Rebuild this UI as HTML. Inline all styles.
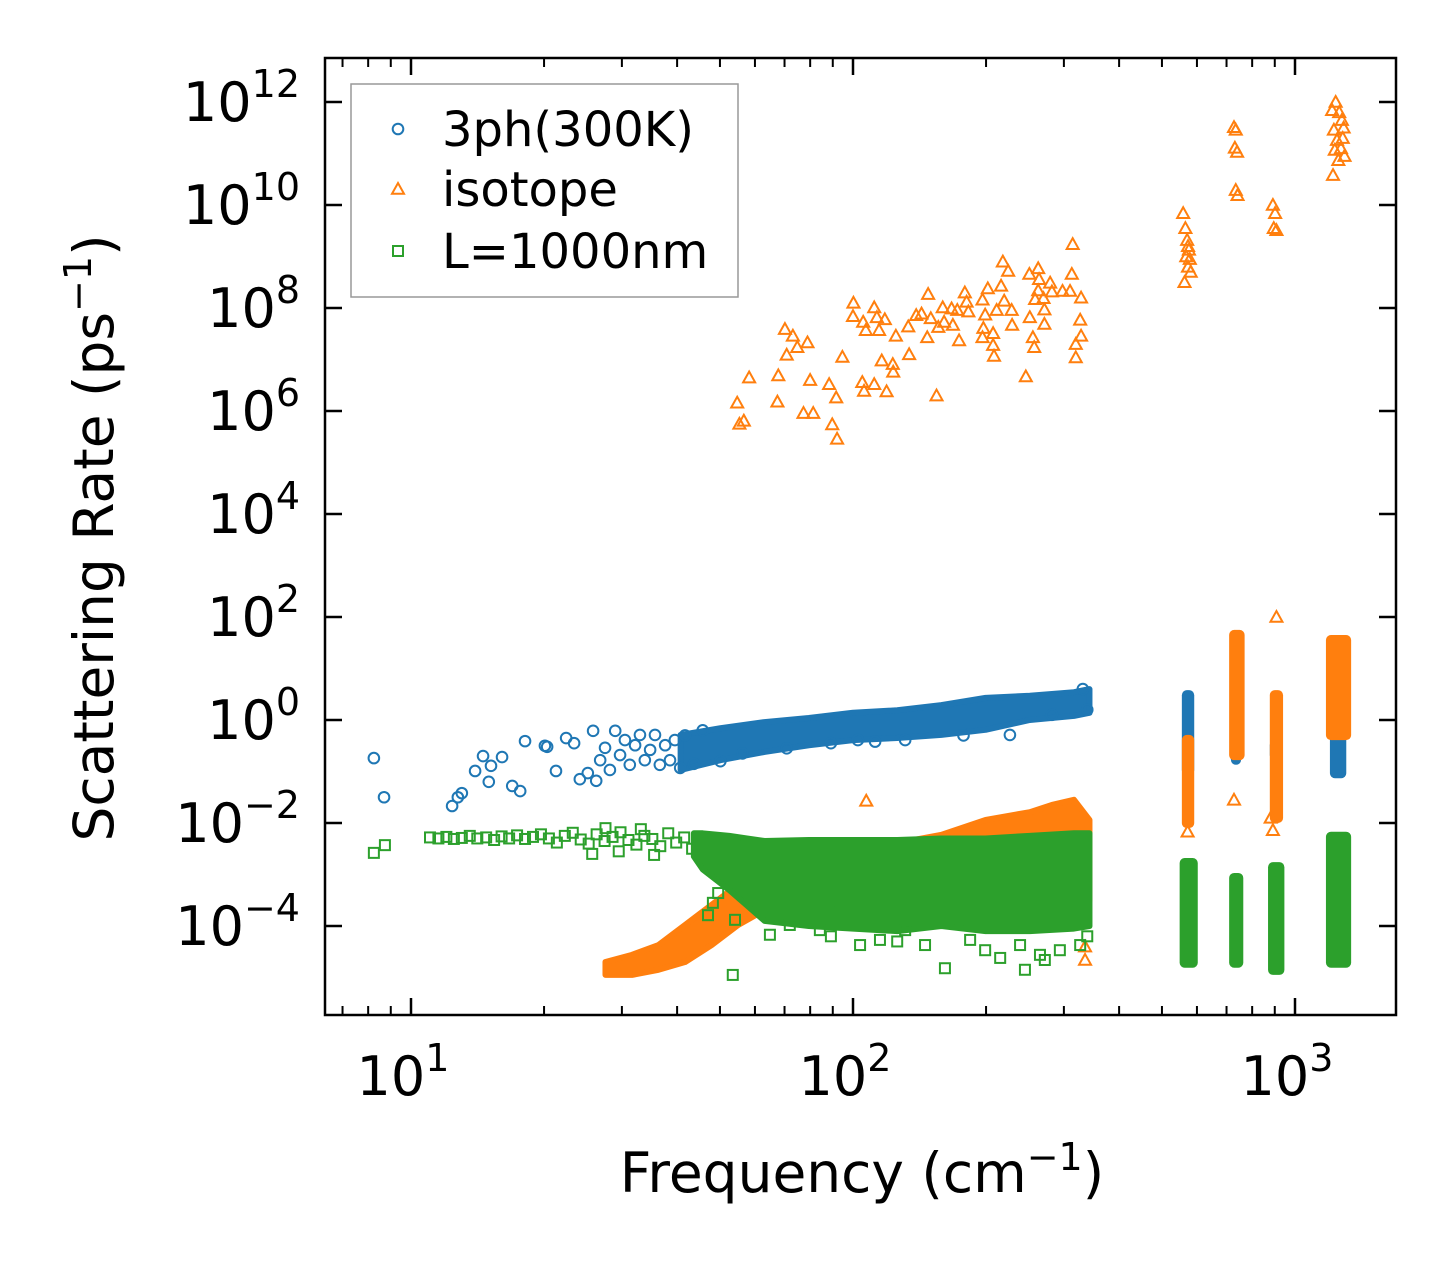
<!DOCTYPE html>
<html><head><meta charset="utf-8"><style>
html,body{margin:0;padding:0;background:#fff;}
svg{display:block;font-family:"DejaVu Sans","Liberation Sans",sans-serif;}
</style></head><body>
<svg id="chart" width="1455" height="1265" viewBox="0 0 1455 1265" xmlns="http://www.w3.org/2000/svg">
<rect width="1455" height="1265" fill="#fff"/>
<g id="marks"></g>
<g id="axes"></g>
<g id="legend"></g>
</svg>
<script>
// All data stored as [log10(frequency cm^-1), log10(rate ps^-1)]
const xMajorTicks = [1, 2, 3];
const yMajorTicks = [12, 10, 8, 6, 4, 2, 0, -2, -4];
const xMinorTicks = [7,8,9,20,30,40,50,60,70,80,90,200,300,400,500,600,700,800,900];

const ph3Points = [[0.916,-0.74],[0.939,-1.50],[1.093,-1.67],[1.106,-1.50],[1.115,-1.42],[1.145,-0.99],[1.163,-0.70],[1.181,-0.89],[1.176,-1.20],[1.206,-0.72],[1.229,-1.28],[1.247,-1.38],[1.258,-0.41],[1.303,-0.50],[1.308,-0.52],[1.328,-0.99],[1.351,-0.35],[1.369,-0.45],[1.382,-1.15],[1.400,-1.03],[1.412,-0.21],[1.419,-1.18],[1.428,-0.78],[1.439,-0.54],[1.450,-0.97],[1.462,-0.21],[1.473,-0.68],[1.484,-0.39],[1.495,-0.87],[1.507,-0.49],[1.518,-0.29],[1.529,-0.78],[1.541,-0.58],[1.552,-0.29],[1.563,-0.87],[1.575,-0.49],[1.586,-0.78],[1.597,-0.39],[1.609,-0.93],[2.118,-0.39],[2.355,-0.29],[2.011,-0.39],[1.62,-0.30],[1.64,-0.85],[1.66,-0.20],[1.70,-0.80],[1.75,-0.65],[1.85,-0.55],[1.95,-0.45],[2.05,-0.42],[2.25,-0.30],[2.45,0.10],[2.52,0.60],[2.53,0.20]];
const ph3BandLogF = [1.61,1.70,1.80,1.90,2.00,2.10,2.20,2.30,2.40,2.50,2.535];
const ph3BandTop = [-0.29,-0.16,-0.04,0.04,0.14,0.19,0.29,0.43,0.47,0.54,0.60];
const ph3BandBot = [-0.97,-0.78,-0.62,-0.49,-0.39,-0.35,-0.29,-0.19,0.00,0.08,0.14];
// clusters: [logF left, logF right, logR top, logR bottom]
const ph3Clusters = [[2.744,2.772,0.58,-1.07],[2.855,2.878,-0.39,-0.87],[2.943,2.971,-0.39,-0.78],[3.079,3.116,0.58,-1.13]];

const isoPoints = [[1.738,6.16],[1.743,5.75],[1.753,5.81],[1.765,6.65],[1.829,6.18],[1.831,6.69],[1.846,7.59],[1.850,7.09],[1.864,7.46],[1.874,7.24],[1.897,7.33],[1.888,5.96],[1.910,5.96],[1.903,6.60],[1.946,6.52],[1.962,6.26],[1.953,5.74],[1.964,5.46],[1.976,7.05],[2.001,8.10],[2.000,7.84],[2.023,7.73],[2.029,7.57],[2.048,8.01],[2.054,7.82],[2.059,7.57],[2.072,7.78],[2.021,6.56],[2.025,6.39],[2.048,6.52],[2.065,6.98],[2.076,6.38],[2.090,6.91],[2.091,6.76],[2.097,7.46],[2.125,7.64],[2.127,7.10],[2.143,7.86],[2.155,7.89],[2.170,8.27],[2.168,7.43],[2.176,7.80],[2.189,6.30],[2.193,7.63],[2.203,8.01],[2.206,7.73],[2.223,7.99],[2.226,7.67],[2.240,7.37],[2.236,7.96],[2.253,8.30],[2.257,8.12],[2.261,7.93],[2.293,7.43],[2.295,7.61],[2.299,7.87],[2.293,8.16],[2.305,8.38],[2.317,7.51],[2.317,7.28],[2.319,7.07],[2.325,7.96],[2.335,8.43],[2.339,8.90],[2.351,8.72],[2.342,8.14],[2.359,7.96],[2.360,7.67],[2.399,8.66],[2.419,8.77],[2.421,8.56],[2.400,7.82],[2.412,8.17],[2.407,7.43],[2.410,7.24],[2.391,6.67],[2.419,8.34],[2.431,8.19],[2.433,7.97],[2.433,7.69],[2.446,8.49],[2.450,8.32],[2.474,8.33],[2.491,8.33],[2.495,8.66],[2.497,9.24],[2.516,8.20],[2.514,7.77],[2.516,7.46],[2.504,7.30],[2.504,7.04],
[2.747,9.84],[2.752,9.55],[2.756,9.32],[2.758,9.20],[2.760,9.13],[2.754,9.00],[2.762,8.95],[2.758,8.80],[2.764,8.70],[2.750,8.50],[2.862,11.51],[2.866,11.46],[2.864,11.11],[2.869,11.03],[2.866,10.29],[2.870,10.19],[2.950,10.00],[2.955,9.84],[2.952,9.55],[2.958,9.51],[3.084,11.84],[3.092,12.00],[3.100,11.80],[3.106,11.65],[3.088,11.46],[3.110,11.50],[3.095,11.26],[3.104,11.10],[3.090,11.07],[3.112,10.95],[3.098,10.87],[3.086,10.58],[3.108,11.30],
[2.03,-1.57],[2.525,-4.66],[2.525,-4.40],[2.958,2.00],[2.862,-1.55],[2.757,-2.17],[2.950,-2.14],[2.945,-1.90]];
const isoBandLogF = [1.44,1.50,1.56,1.62,1.68,1.74,1.80,1.90,2.00,2.10,2.20,2.30,2.40,2.45,2.50,2.535];
const isoBandTop = [-4.70,-4.56,-4.37,-3.98,-3.59,-3.20,-2.72,-2.52,-2.43,-2.39,-2.23,-1.94,-1.79,-1.65,-1.55,-1.94];
const isoBandBot = [-4.95,-4.95,-4.85,-4.70,-4.37,-3.98,-3.69,-3.50,-3.50,-3.50,-3.50,-3.50,-3.50,-3.50,-3.50,-3.50];
const isoClusters = [[2.744,2.772,-0.29,-2.10],[2.851,2.886,1.75,-0.78],[2.943,2.973,0.58,-2.0],[3.070,3.127,1.65,-0.39]];

const lPoints = [[0.916,-2.58],[0.941,-2.43],[1.043,-2.28],[1.062,-2.30],[1.080,-2.27],[1.097,-2.31],[1.115,-2.29],[1.133,-2.25],[1.150,-2.30],[1.170,-2.28],[1.188,-2.33],[1.205,-2.26],[1.222,-2.30],[1.240,-2.24],[1.258,-2.31],[1.276,-2.27],[1.294,-2.22],[1.312,-2.30],[1.330,-2.38],[1.348,-2.25],[1.366,-2.19],[1.384,-2.32],[1.402,-2.40],[1.420,-2.22],[1.438,-2.35],[1.456,-2.27],[1.474,-2.18],[1.492,-2.33],[1.510,-2.42],[1.528,-2.25],[1.546,-2.31],[1.564,-2.45],[1.582,-2.20],[1.600,-2.38],[1.618,-2.28],[1.636,-2.50],[1.410,-2.60],[1.470,-2.55],[1.550,-2.62],[1.440,-2.10],[1.520,-2.12],
[1.683,-3.55],[1.695,-3.36],[1.672,-3.79],[1.733,-3.88],[1.790,-3.59],[1.812,-4.17],[1.857,-3.98],[1.925,-4.08],[1.971,-3.73],[2.016,-4.37],[2.061,-4.27],[2.118,-4.08],[2.163,-4.37],[2.208,-4.82],[2.265,-4.27],[2.299,-4.47],[2.333,-4.62],[2.378,-4.37],[2.423,-4.56],[2.468,-4.47],[2.514,-4.37],[2.389,-4.85],[2.434,-4.66],[1.728,-4.95],[2.53,-4.20],[2.10,-4.30],[1.95,-4.20]];
const lBandLogF = [1.64,1.66,1.72,1.76,1.80,1.90,2.00,2.10,2.20,2.30,2.40,2.50,2.535];
const lBandTop = [-2.20,-2.20,-2.25,-2.30,-2.35,-2.33,-2.33,-2.33,-2.30,-2.30,-2.25,-2.20,-2.20];
const lBandBot = [-2.65,-2.90,-3.30,-3.60,-3.90,-4.00,-4.05,-4.10,-4.00,-4.10,-4.10,-4.05,-4.00];
const lClusters = [[2.739,2.780,-2.68,-4.81],[2.851,2.883,-2.97,-4.81],[2.939,2.976,-2.76,-4.95],[3.070,3.127,-2.17,-4.81]];

const NS = 'http://www.w3.org/2000/svg';
const X = lf => 411 + 442 * (lf - 1);
const Y = lr => 720 - 51.5 * lr;
const C_BLUE = '#1f77b4', C_ORANGE = '#ff7f0e', C_GREEN = '#2ca02c';
const marks = document.getElementById('marks');
const axes = document.getElementById('axes');
const legend = document.getElementById('legend');

function mk(tag, attrs, parent) {
  const e = document.createElementNS(NS, tag);
  for (const k in attrs) e.setAttribute(k, attrs[k]);
  parent.appendChild(e);
  return e;
}
function circle(lf, lr, parent) {
  const e = mk('circle', {cx: X(lf), cy: Y(lr), r: 5.3, fill: 'none', stroke: C_BLUE, 'stroke-width': 2}, parent);
  
  
}
function tri(lf, lr, parent) {
  const x = X(lf), y = Y(lr), s = 6;
  const e = mk('polygon', {points: `${x},${y-s} ${x+s},${y+s*0.8} ${x-s},${y+s*0.8}`, fill: 'none', stroke: C_ORANGE, 'stroke-width': 2}, parent);
  
  
}
function sq(lf, lr, parent) {
  const s = 5;
  const e = mk('rect', {x: X(lf)-s, y: Y(lr)-s, width: 2*s, height: 2*s, fill: 'none', stroke: C_GREEN, 'stroke-width': 2}, parent);
  
  
}
function band(lfs, tops, bots, color, name) {
  let pts = [];
  for (let i = 0; i < lfs.length; i++) pts.push(X(lfs[i]) + ',' + Y(tops[i]));
  for (let i = lfs.length - 1; i >= 0; i--) pts.push(X(lfs[i]) + ',' + Y(bots[i]));
  const e = mk('polygon', {points: pts.join(' '), fill: color, stroke: color, 'stroke-width': 6, 'stroke-linejoin': 'round'}, marks);
  
  
}
function clusters(list, color, name) {
  list.forEach(c => {
    const x1 = X(c[0]), x2 = X(c[1]), y1 = Y(c[2]), y2 = Y(c[3]);
    const e = mk('rect', {x: x1, y: y1, width: x2 - x1, height: y2 - y1, rx: 5, fill: color}, marks);
    
    
  });
}

band(ph3BandLogF, ph3BandTop, ph3BandBot, C_BLUE, 'band-3ph');
clusters(ph3Clusters, C_BLUE, 'cluster-3ph');
ph3Points.forEach(p => circle(p[0], p[1], marks));
band(isoBandLogF, isoBandTop, isoBandBot, C_ORANGE, 'band-isotope');
clusters(isoClusters, C_ORANGE, 'cluster-isotope');
isoPoints.forEach(p => tri(p[0], p[1], marks));
band(lBandLogF, lBandTop, lBandBot, C_GREEN, 'band-l1000nm');
clusters(lClusters, C_GREEN, 'cluster-l1000nm');
lPoints.forEach(p => sq(p[0], p[1], marks));

const L = 325, R = 1396, T = 58, B = 1015;
const frame = mk('rect', {x: L, y: T, width: R - L, height: B - T, fill: 'none', stroke: '#000', 'stroke-width': 2.5}, axes);



xMajorTicks.forEach(d => {
  const x = X(d);
  mk('line', {x1: x, y1: B, x2: x, y2: B - 17, stroke: '#000', 'stroke-width': 2.5}, axes);
  mk('line', {x1: x, y1: T, x2: x, y2: T + 17, stroke: '#000', 'stroke-width': 2.5}, axes);
  const t = mk('text', {x: x - 8, y: 1095, 'font-size': 54, 'text-anchor': 'middle', fill: '#000'}, axes);
  
  
  t.innerHTML = `10<tspan dy="-24" font-size="38">${d}</tspan>`;
});
xMinorTicks.forEach(v => {
  const x = X(Math.log10(v));
  mk('line', {x1: x, y1: B, x2: x, y2: B - 9, stroke: '#000', 'stroke-width': 2}, axes);
  mk('line', {x1: x, y1: T, x2: x, y2: T + 9, stroke: '#000', 'stroke-width': 2}, axes);
});
yMajorTicks.forEach(d => {
  const y = Y(d);
  mk('line', {x1: L, y1: y, x2: L + 17, y2: y, stroke: '#000', 'stroke-width': 2.5}, axes);
  mk('line', {x1: R, y1: y, x2: R - 17, y2: y, stroke: '#000', 'stroke-width': 2.5}, axes);
  const t = mk('text', {x: 300, y: y + 19, 'font-size': 54, 'text-anchor': 'end', fill: '#000'}, axes);
  
  
  const lab = d < 0 ? '\u2212' + Math.abs(d) : String(d);
  t.innerHTML = `10<tspan dy="-24" font-size="38">${lab}</tspan>`;
});

const xt = mk('text', {x: 862, y: 1192, 'font-size': 55, 'text-anchor': 'middle', fill: '#000'}, axes);


xt.innerHTML = 'Frequency (cm<tspan dy="-22" font-size="38">\u22121</tspan><tspan dy="22">)</tspan>';
const yt = mk('text', {x: 0, y: 0, 'font-size': 55, 'text-anchor': 'middle', fill: '#000', transform: 'translate(113,538) rotate(-90)'}, axes);


yt.innerHTML = 'Scattering Rate (ps<tspan dy="-22" font-size="38">\u22121</tspan><tspan dy="22">)</tspan>';

const lb = mk('rect', {x: 351, y: 84, width: 387, height: 213, fill: '#fff', 'fill-opacity': 0.8, stroke: '#999', 'stroke-width': 1.5}, legend);


const legendLabels = ['3ph(300K)', 'isotope', 'L=1000nm'];
const legendRowsY = [129, 189, 251];
legendLabels.forEach((lab, i) => {
  const y = legendRowsY[i];
  const g = mk('g', {}, legend);
  
  
  if (i === 0) mk('circle', {cx: 398, cy: y, r: 5.3, fill: 'none', stroke: C_BLUE, 'stroke-width': 2}, g);
  if (i === 1) mk('polygon', {points: `398,${y-6} 404,${y+4.8} 392,${y+4.8}`, fill: 'none', stroke: C_ORANGE, 'stroke-width': 2}, g);
  if (i === 2) mk('rect', {x: 393, y: y - 5, width: 10, height: 10, fill: 'none', stroke: C_GREEN, 'stroke-width': 2}, g);
  const t = mk('text', {x: 442, y: y + 17, 'font-size': 48, fill: '#000'}, g);
  t.textContent = lab;
});
</script>
</body></html>
